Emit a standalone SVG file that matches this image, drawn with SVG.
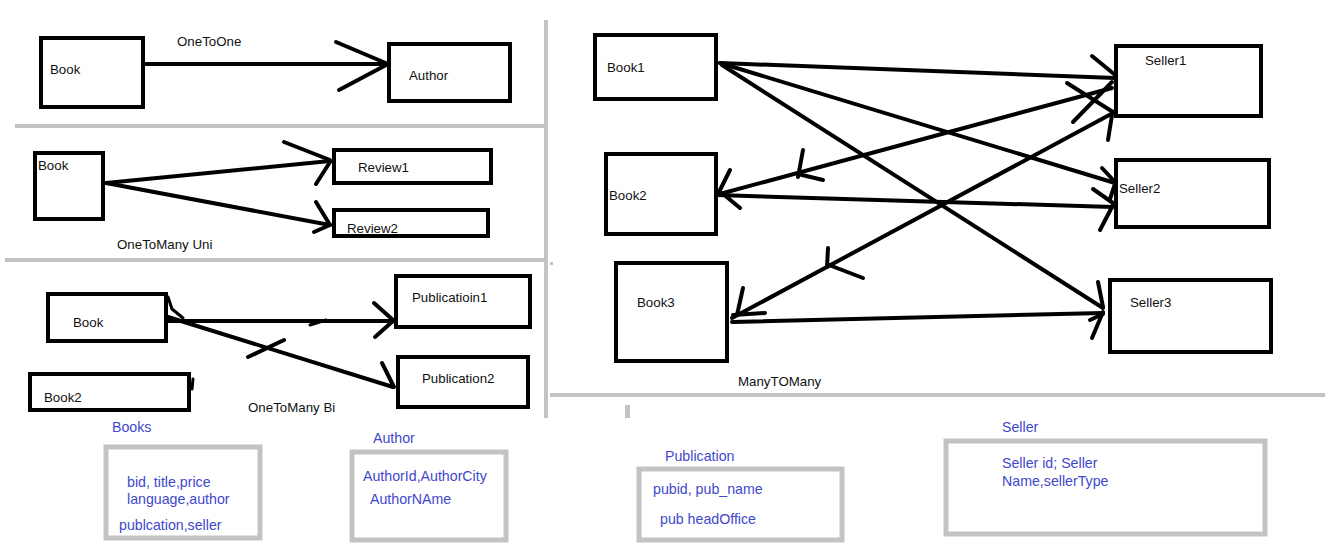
<svg xmlns="http://www.w3.org/2000/svg" width="1339" height="550" viewBox="0 0 1339 550">
<style>
.box{fill:none;stroke:#000;stroke-width:4}
.tbl{fill:none;stroke:#c3c3c3;stroke-width:5}
.sep{stroke:#c3c3c3;stroke-width:4;fill:none}
.ln{stroke:#000;stroke-width:4;fill:none;stroke-linecap:round}
.arm{stroke:#000;stroke-width:4;fill:none;stroke-linecap:round}
.thin{stroke:#000;stroke-width:3;fill:none;stroke-linecap:round}
.t{font-family:"Liberation Sans",Arial,sans-serif;font-size:13.3px;fill:#111}
.b{font-family:"Liberation Sans",Arial,sans-serif;font-size:14.2px;fill:#3f48cc}
</style>
<rect width="1339" height="550" fill="#fff"/>
<g id="separators">
<line class="sep" x1="15" y1="126" x2="545" y2="126"/>
<line class="sep" x1="5" y1="260" x2="545" y2="260"/>
<line class="sep" x1="546" y1="20" x2="546" y2="418"/>
<rect x="550" y="262" width="3" height="3" fill="#c3c3c3"/>
<line class="sep" x1="550" y1="395" x2="1325" y2="395"/>
<rect x="625" y="405" width="5" height="13" fill="#c3c3c3"/>
</g>
<g id="connectors">
<!-- OneToOne -->
<line class="ln" x1="143" y1="64" x2="389" y2="64"/>
<line class="arm" x1="336" y1="42" x2="388" y2="64"/>
<line class="arm" x1="339" y1="90" x2="388" y2="64"/>
<!-- OneToMany Uni -->
<line class="ln" x1="106" y1="183" x2="330" y2="161"/>
<line class="arm" x1="284" y1="142" x2="330" y2="160"/>
<line class="arm" x1="316" y1="184" x2="330" y2="162"/>
<line class="ln" x1="106" y1="183" x2="330" y2="225"/>
<line class="arm" x1="316" y1="202" x2="330" y2="225"/>
<line class="arm" x1="314" y1="232" x2="330" y2="225"/>
<!-- OneToMany Bi -->
<path class="thin" d="M168,297 L172,309 L183,318"/>
<line class="ln" x1="168" y1="321" x2="395" y2="321"/>
<line class="arm" x1="374" y1="303" x2="393" y2="320"/>
<line class="arm" x1="375" y1="337" x2="393" y2="321"/>
<line class="thin" x1="310" y1="325" x2="326" y2="320"/>
<line class="ln" x1="168" y1="317" x2="393" y2="387"/>
<line class="arm" x1="382" y1="363" x2="394" y2="387"/>
<line class="ln" x1="248" y1="357" x2="284" y2="340"/>
<line class="thin" x1="193" y1="379" x2="192" y2="389"/>
<!-- ManyToMany -->
<line class="ln" x1="720" y1="63" x2="1115" y2="78"/>
<line class="arm" x1="1092" y1="56" x2="1114" y2="74"/>
<line class="ln" x1="720" y1="63" x2="1115" y2="183"/>
<line class="arm" x1="1102" y1="168" x2="1115" y2="182"/>
<line class="arm" x1="1115" y1="184" x2="1110" y2="199"/>
<line class="ln" x1="722" y1="65" x2="1103" y2="308"/>
<line class="arm" x1="1098" y1="282" x2="1103" y2="307"/>
<line class="ln" x1="716" y1="195" x2="1112" y2="88"/>
<line class="arm" x1="1073" y1="122" x2="1112" y2="82"/>
<line class="arm" x1="730" y1="170" x2="718" y2="194"/>
<line class="arm" x1="740" y1="208" x2="722" y2="193"/>
<line class="arm" x1="803" y1="150" x2="798" y2="177"/>
<line class="arm" x1="823" y1="180" x2="798" y2="174"/>
<line class="ln" x1="716" y1="195" x2="1113" y2="207"/>
<line class="arm" x1="1093" y1="189" x2="1113" y2="203"/>
<line class="arm" x1="1100" y1="230" x2="1113" y2="205"/>
<line class="ln" x1="732" y1="318" x2="1113" y2="113"/>
<line class="arm" x1="1067" y1="83" x2="1113" y2="112"/>
<line class="arm" x1="1108" y1="140" x2="1112" y2="115"/>
<line class="arm" x1="743" y1="288" x2="737" y2="315"/>
<line class="arm" x1="765" y1="313" x2="733" y2="315"/>
<line class="arm" x1="828" y1="248" x2="827" y2="267"/>
<line class="arm" x1="863" y1="278" x2="829" y2="265"/>
<line class="ln" x1="732" y1="322" x2="1103" y2="313"/>
<line class="arm" x1="1090" y1="320" x2="1103" y2="314"/>
<line class="arm" x1="1092" y1="338" x2="1103" y2="312"/>
</g>
<g id="labels">
<text class="t" x="177" y="46">OneToOne</text>
<text class="t" x="117" y="249">OneToMany Uni</text>
<text class="t" x="248" y="412">OneToMany Bi</text>
<text class="t" x="738" y="386">ManyTOMany</text>
</g>
<g id="n-book-a"><rect class="box" x="41" y="38" width="102" height="69"/><text class="t" x="50" y="74">Book</text></g>
<g id="n-author"><rect class="box" x="389" y="44" width="121" height="57"/><text class="t" x="409" y="80">Author</text></g>
<g id="n-book-b"><rect class="box" x="35" y="153" width="68" height="66"/><text class="t" x="38" y="170">Book</text></g>
<g id="n-review1"><rect class="box" x="334" y="150" width="157" height="33"/><text class="t" x="358" y="172">Review1</text></g>
<g id="n-review2"><rect class="box" x="334" y="210" width="154" height="26"/><text class="t" x="347" y="233">Review2</text></g>
<g id="n-book-c"><rect class="box" x="48" y="294" width="118" height="47"/><text class="t" x="73" y="327">Book</text></g>
<g id="n-book2-c"><rect class="box" x="30" y="374" width="159" height="36"/><text class="t" x="44" y="402">Book2</text></g>
<g id="n-pub1"><rect class="box" x="396" y="276" width="134" height="51"/><text class="t" x="412" y="302">Publicatioin1</text></g>
<g id="n-pub2"><rect class="box" x="398" y="357" width="130" height="50"/><text class="t" x="422" y="383">Publication2</text></g>
<g id="n-book1"><rect class="box" x="595" y="35" width="121" height="64"/><text class="t" x="607" y="72">Book1</text></g>
<g id="n-book2"><rect class="box" x="606" y="154" width="110" height="80"/><text class="t" x="609" y="200">Book2</text></g>
<g id="n-book3"><rect class="box" x="616" y="263" width="111" height="98"/><text class="t" x="637" y="307">Book3</text></g>
<g id="n-seller1"><rect class="box" x="1116" y="46" width="145" height="70"/><text class="t" x="1145" y="65">Seller1</text></g>
<g id="n-seller2"><rect class="box" x="1116" y="160" width="153" height="67"/><text class="t" x="1119" y="193">Seller2</text></g>
<g id="n-seller3"><rect class="box" x="1110" y="280" width="161" height="72"/><text class="t" x="1130" y="307">Seller3</text></g>
<g id="t-books"><text class="b" x="112" y="432">Books</text><rect class="tbl" x="106" y="447" width="154" height="91"/><text class="b" x="127" y="487">bid, title,price</text><text class="b" x="127" y="504">language,author</text><text class="b" x="119" y="530">publcation,seller</text></g>
<g id="t-author"><text class="b" x="373" y="443">Author</text><rect class="tbl" x="352" y="452" width="154" height="88"/><text class="b" x="363" y="481">AuthorId,AuthorCity</text><text class="b" x="370" y="504">AuthorNAme</text></g>
<g id="t-publication"><text class="b" x="665" y="461">Publication</text><rect class="tbl" x="639" y="469" width="203" height="71"/><text class="b" x="653" y="494">pubid, pub_name</text><text class="b" x="660" y="524">pub headOffice</text></g>
<g id="t-seller"><text class="b" x="1002" y="432">Seller</text><rect class="tbl" x="946" y="441" width="319" height="93"/><text class="b" x="1002" y="468">Seller id; Seller</text><text class="b" x="1002" y="486">Name,sellerType</text></g>
</svg>
